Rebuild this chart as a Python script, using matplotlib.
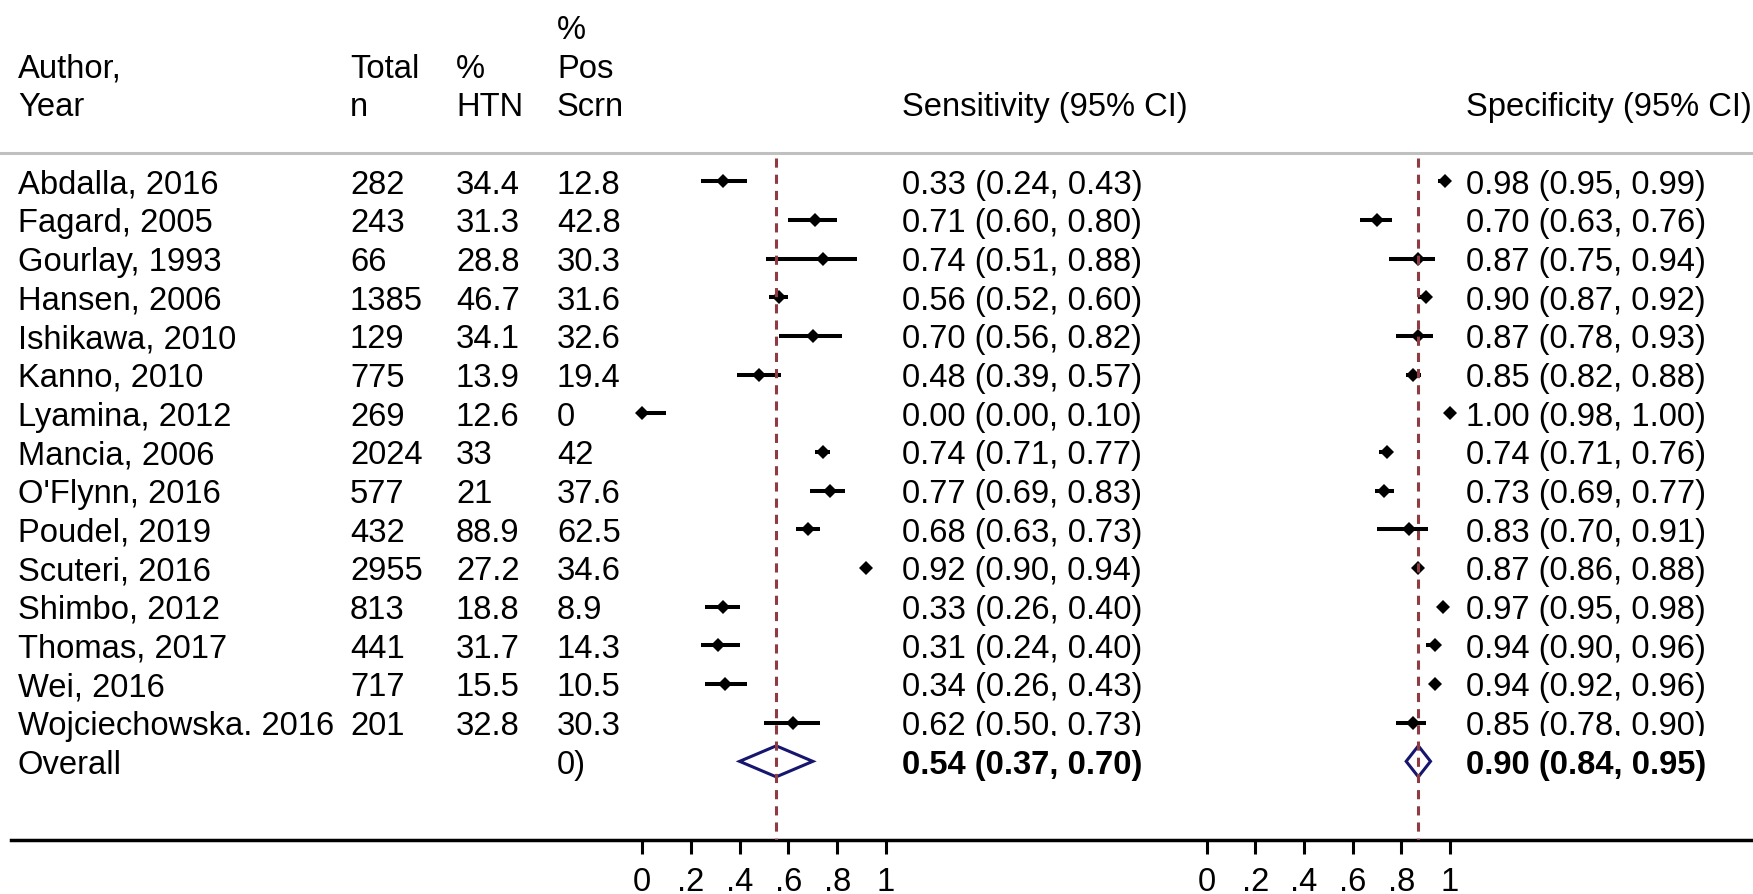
import matplotlib
matplotlib.use('Agg')
import matplotlib.pyplot as plt
from matplotlib.patches import Polygon, Rectangle

plt.rcParams['font.family'] = ['Liberation Sans', 'DejaVu Sans']

# ---- data ----
authors = ["Abdalla, 2016", "Fagard, 2005", "Gourlay, 1993", "Hansen, 2006",
           "Ishikawa, 2010", "Kanno, 2010", "Lyamina, 2012", "Mancia, 2006",
           "O'Flynn, 2016", "Poudel, 2019", "Scuteri, 2016", "Shimbo, 2012",
           "Thomas, 2017", "Wei, 2016", "Wojciechowska. 2016"]
total_n = ["282", "243", "66", "1385", "129", "775", "269", "2024", "577",
           "432", "2955", "813", "441", "717", "201"]
pct_htn = ["34.4", "31.3", "28.8", "46.7", "34.1", "13.9", "12.6", "33", "21",
           "88.9", "27.2", "18.8", "31.7", "15.5", "32.8"]
pct_pos = ["12.8", "42.8", "30.3", "31.6", "32.6", "19.4", "0", "42", "37.6",
           "62.5", "34.6", "8.9", "14.3", "10.5", "30.3"]

sens = [0.33, 0.71, 0.74, 0.56, 0.70, 0.48, 0.00, 0.74, 0.77, 0.68, 0.92, 0.33, 0.31, 0.34, 0.62]
sens_lo = [0.24, 0.60, 0.51, 0.52, 0.56, 0.39, 0.00, 0.71, 0.69, 0.63, 0.90, 0.26, 0.24, 0.26, 0.50]
sens_hi = [0.43, 0.80, 0.88, 0.60, 0.82, 0.57, 0.10, 0.77, 0.83, 0.73, 0.94, 0.40, 0.40, 0.43, 0.73]

spec = [0.98, 0.70, 0.87, 0.90, 0.87, 0.85, 1.00, 0.74, 0.73, 0.83, 0.87, 0.97, 0.94, 0.94, 0.85]
spec_lo = [0.95, 0.63, 0.75, 0.87, 0.78, 0.82, 0.98, 0.71, 0.69, 0.70, 0.86, 0.95, 0.90, 0.92, 0.78]
spec_hi = [0.99, 0.76, 0.94, 0.92, 0.93, 0.88, 1.00, 0.76, 0.77, 0.91, 0.88, 0.98, 0.96, 0.96, 0.90]

# pooled: printed values and the diamond as drawn
sens_pooled_text = "0.54 (0.37, 0.70)"
spec_pooled_text = "0.90 (0.84, 0.95)"
sens_diamond = (0.55, 0.40, 0.70)   # centre, lo, hi
spec_diamond = (0.87, 0.82, 0.92)

tick_vals = [0, 0.2, 0.4, 0.6, 0.8, 1]
tick_labels = ["0", ".2", ".4", ".6", ".8", "1"]

# ---- layout (pixels of a 1753x895 canvas) ----
W, H = 1753, 895
ROW0, ROWH = 182.3, 38.67
FS = 23.6
AXIS_PX = 841.0
DASH_TOP_PX = 159.0
RED = "#903a42"
NAVY = "#16166e"


def row_of(py):
    return (py - ROW0) / ROWH


fig = plt.figure(figsize=(W / 100, H / 100), dpi=100)
ax = fig.add_axes([0, 0, 1, 1])
ax.set_xlim(0, W)
ax.set_ylim(row_of(H), row_of(0))
ax.axis('off')

BASE = 0.29  # baseline offset so digits sit centred on the row


def put(x, r, s, **kw):
    return ax.text(x, r + BASE, s, fontsize=FS, va='baseline', ha='left', **kw)


# header
put(18, -3, "Author,")
put(18, -2, "Year")
put(350, -3, "Total")
put(350, -2, "n")
put(456, -3, "%")
put(456, -2, "HTN")
put(557, -4, "%")
put(557, -3, "Pos")
put(557, -2, "Scrn")
put(902, -2, "Sensitivity (95% CI)")
put(1466, -2, "Specificity (95% CI)")

ax.axhline(row_of(153.7), color="#c0c0c0", lw=2.2)
ax.axhline(row_of(AXIS_PX), xmin=11 / W, color="black", lw=2.5)

rows = list(range(len(authors)))
clip = Rectangle((0, -10), W, row_of(737) + 10, transform=ax.transData)
for i in rows:
    put(18, i, authors[i])
    put(350, i, total_n[i])
    put(456, i, pct_htn[i])
    put(557, i, pct_pos[i])
    t1 = put(902, i, f"{sens[i]:.2f} ({sens_lo[i]:.2f}, {sens_hi[i]:.2f})")
    t2 = put(1466, i, f"{spec[i]:.2f} ({spec_lo[i]:.2f}, {spec_hi[i]:.2f})")
    if i == rows[-1]:
        for t in (t1, t2):
            t.set_clip_on(True)
            t.set_clip_path(clip)

ov = len(authors)
put(18, ov, "Overall")
put(557, ov, "0)")
put(902, ov, sens_pooled_text, fontweight='bold')
put(1466, ov, spec_pooled_text, fontweight='bold')


def panel(px0, px1, est, lo, hi, diamond):
    frac = (H - AXIS_PX) / H
    pax = fig.add_axes([0, frac, 1, 1 - frac])
    pax.patch.set_alpha(0)
    span = px1 - px0
    pax.set_xlim(-px0 / span, (W - px0) / span)
    pax.set_ylim(row_of(AXIS_PX), row_of(0))
    for s in pax.spines.values():
        s.set_visible(False)
    pax.set_yticks([])
    pax.set_xticks(tick_vals)
    pax.set_xticklabels(tick_labels)
    pax.tick_params(axis='x', direction='out', length=10, width=2.2, pad=8.5,
                    labelsize=FS)
    pax.hlines(rows, lo, hi, color='black', lw=2.9)
    pax.plot(est, rows, 'D', ms=6.8, mew=0, color='black', clip_on=False)
    c, dlo, dhi = diamond
    h = 15.5 / ROWH
    pax.add_patch(Polygon([(dlo, ov), (c, ov - h), (dhi, ov), (c, ov + h)],
                          closed=True, fill=False, edgecolor=NAVY, lw=2.2))
    ln = pax.vlines(c, row_of(DASH_TOP_PX), row_of(AXIS_PX), color=RED, lw=2.2)
    ln.set_linestyle((0, (3.0, 2.3)))
    return pax


panel(642, 886, sens, sens_lo, sens_hi, sens_diamond)
panel(1206.5, 1450, spec, spec_lo, spec_hi, spec_diamond)

fig.savefig("out.png", dpi=100)
